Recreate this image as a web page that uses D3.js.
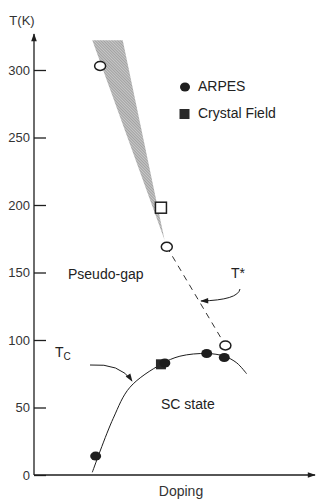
<!DOCTYPE html>
<html>
<head>
<meta charset="utf-8">
<script src="https://cdn.jsdelivr.net/npm/d3@7"></script>
<style>
  body { margin: 0; background: #fff; }
  svg { display: block; font-family: "Liberation Sans", Arial, sans-serif; }
</style>
</head>
<body>
<svg id="chart"></svg>
<script>
// data, doping in arbitrary units (0..1), T in K
var tempTicks = [0, 50, 100, 150, 200, 250, 300];

var tcCurve = [[0.209, 2], [0.284, 42], [0.344, 65], [0.455, 82],
               [0.523, 88], [0.619, 90], [0.682, 88], [0.727, 83], [0.762, 75]];

var arpesTc = [[0.221, 14], [0.469, 83], [0.619, 90], [0.682, 87]];
var crystalTc = [[0.455, 82]];
var arpesTstar = [[0.237, 303], [0.476, 169], [0.686, 96]];
var crystalTstar = [[0.455, 198]];

// shaded band of T* (upper part), and the dashed continuation
var tstarBand = [[0.209, 322], [0.318, 322], [0.468, 174]];
var tstarDash = [[0.476, 169], [0.686, 96]];

var svgWidth = 317, svgHeight = 500;
var ink = "#1e1e1e";

var svg = d3.select('#chart')
	.attr("width", svgWidth)
	.attr("height", svgHeight);

var xScale = d3.scaleLinear().domain([0, 1]).range([34, 313]);
var yScale = d3.scaleLinear().domain([0, 300]).range([475, 70]);

var defs = svg.append("defs");

defs.append("marker")
	.attr("id", "arrow")
	.attr("viewBox", "0 0 10 10")
	.attr("refX", 9).attr("refY", 5)
	.attr("markerWidth", 10).attr("markerHeight", 8)
	.attr("markerUnits", "userSpaceOnUse")
	.attr("orient", "auto")
	.append("path")
	.attr("d", "M0,1.5 L10,5 L0,8.5 Z")
	.attr("fill", ink);

var hatch = defs.append("pattern")
	.attr("id", "hatch")
	.attr("patternUnits", "userSpaceOnUse")
	.attr("width", 2).attr("height", 2)
	.attr("patternTransform", "rotate(-45)");
hatch.append("rect").attr("width", 2).attr("height", 2).attr("fill", "#c8c8c8");
hatch.append("line")
	.attr("x1", 0).attr("y1", 0).attr("x2", 0).attr("y2", 2)
	.attr("stroke", "#707070").attr("stroke-width", 0.9);

// axes
var y_axis = d3.axisLeft(yScale)
	.tickValues(tempTicks)
	.tickSizeInner(-12)
	.tickSizeOuter(0)
	.tickPadding(4);

var gy = svg.append("g")
	.attr("transform", "translate(34,0)")
	.call(y_axis);
gy.select(".domain").remove();
gy.selectAll(".tick line").attr("stroke", ink).attr("stroke-width", 1.3);
gy.selectAll(".tick text")
	.attr("fill", "#333")
	.style("font-size", "13px")
	.style("font-family", "'Liberation Sans', Arial, sans-serif");

svg.append("line")
	.attr("x1", 34).attr("y1", yScale(0))
	.attr("x2", 34).attr("y2", 34)
	.attr("stroke", ink).attr("stroke-width", 1.3)
	.attr("marker-end", "url(#arrow)");

svg.append("line")
	.attr("x1", 34).attr("y1", yScale(0))
	.attr("x2", 315).attr("y2", yScale(0))
	.attr("stroke", ink).attr("stroke-width", 1.3)
	.attr("marker-end", "url(#arrow)");

svg.append("text").text("T(K)")
	.attr("x", 22).attr("y", 25)
	.attr("text-anchor", "middle")
	.attr("fill", "#333")
	.style("font-size", "13px");

svg.append("text").text("Doping")
	.attr("x", 181).attr("y", 496)
	.attr("text-anchor", "middle")
	.attr("fill", "#333")
	.style("font-size", "14px");

// T* band and dashed line
svg.append("path")
	.datum(tstarBand)
	.attr("d", d3.line().x(function(d){ return xScale(d[0]); }).y(function(d){ return yScale(d[1]); }))
	.attr("fill", "url(#hatch)");

svg.append("path")
	.datum(tstarDash)
	.attr("d", d3.line().x(function(d){ return xScale(d[0]); }).y(function(d){ return yScale(d[1]); }))
	.attr("fill", "none")
	.attr("stroke", "#333")
	.attr("stroke-width", 1)
	.attr("stroke-dasharray", "6,5");

// Tc dome
svg.append("path")
	.datum(tcCurve)
	.attr("d", d3.line()
		.x(function(d){ return xScale(d[0]); })
		.y(function(d){ return yScale(d[1]); })
		.curve(d3.curveCatmullRom.alpha(0.5)))
	.attr("fill", "none")
	.attr("stroke", ink)
	.attr("stroke-width", 1);

// markers
svg.selectAll(".tstar")
	.data(arpesTstar)
	.enter()
	.append("ellipse")
	.attr("cx", function(d){ return xScale(d[0]); })
	.attr("cy", function(d){ return yScale(d[1]); })
	.attr("rx", 5.5).attr("ry", 4.5)
	.attr("fill", "#fff")
	.attr("stroke", ink).attr("stroke-width", 1.5);

svg.selectAll(".cfstar")
	.data(crystalTstar)
	.enter()
	.append("rect")
	.attr("x", function(d){ return xScale(d[0]) - 5.5; })
	.attr("y", function(d){ return yScale(d[1]) - 5.5; })
	.attr("width", 11).attr("height", 11)
	.attr("fill", "#fff")
	.attr("stroke", ink).attr("stroke-width", 1.5);

svg.selectAll(".cftc")
	.data(crystalTc)
	.enter()
	.append("rect")
	.attr("x", function(d){ return xScale(d[0]) - 5; })
	.attr("y", function(d){ return yScale(d[1]) - 5; })
	.attr("width", 10).attr("height", 10)
	.attr("fill", "#2a2a2a");

svg.selectAll(".arpestc")
	.data(arpesTc)
	.enter()
	.append("ellipse")
	.attr("cx", function(d){ return xScale(d[0]); })
	.attr("cy", function(d){ return yScale(d[1]); })
	.attr("rx", 5.5).attr("ry", 4.5)
	.attr("fill", ink);

// legend
svg.append("ellipse")
	.attr("cx", 185).attr("cy", 87)
	.attr("rx", 5).attr("ry", 4.5)
	.attr("fill", ink);
svg.append("text").text("ARPES")
	.attr("x", 198).attr("y", 91)
	.attr("fill", "#222")
	.style("font-size", "14px");
svg.append("rect")
	.attr("x", 179.5).attr("y", 109)
	.attr("width", 10).attr("height", 10)
	.attr("fill", "#2a2a2a");
svg.append("text").text("Crystal Field")
	.attr("x", 198).attr("y", 118)
	.attr("fill", "#222")
	.style("font-size", "14px");

// region labels
svg.append("text").text("Pseudo-gap")
	.attr("x", 68).attr("y", 279)
	.attr("fill", "#222")
	.style("font-size", "14px");

svg.append("text").text("SC state")
	.attr("x", 161).attr("y", 409)
	.attr("fill", "#222")
	.style("font-size", "14px");

var tc = svg.append("text")
	.attr("x", 55).attr("y", 357)
	.attr("fill", "#222")
	.style("font-size", "14px");
tc.append("tspan").text("T");
tc.append("tspan").text("C").attr("dy", 3).style("font-size", "10px");

svg.append("text").text("T*")
	.attr("x", 231).attr("y", 278)
	.attr("fill", "#222")
	.style("font-size", "14px");

// annotation arrows
svg.append("path")
	.attr("d", "M90,365 Q120,363 132,381")
	.attr("fill", "none").attr("stroke", ink).attr("stroke-width", 1)
	.attr("marker-end", "url(#arrow)");

svg.append("path")
	.attr("d", "M240,289 Q238,300 201,301")
	.attr("fill", "none").attr("stroke", ink).attr("stroke-width", 1)
	.attr("marker-end", "url(#arrow)");
</script>
</body>
</html>
